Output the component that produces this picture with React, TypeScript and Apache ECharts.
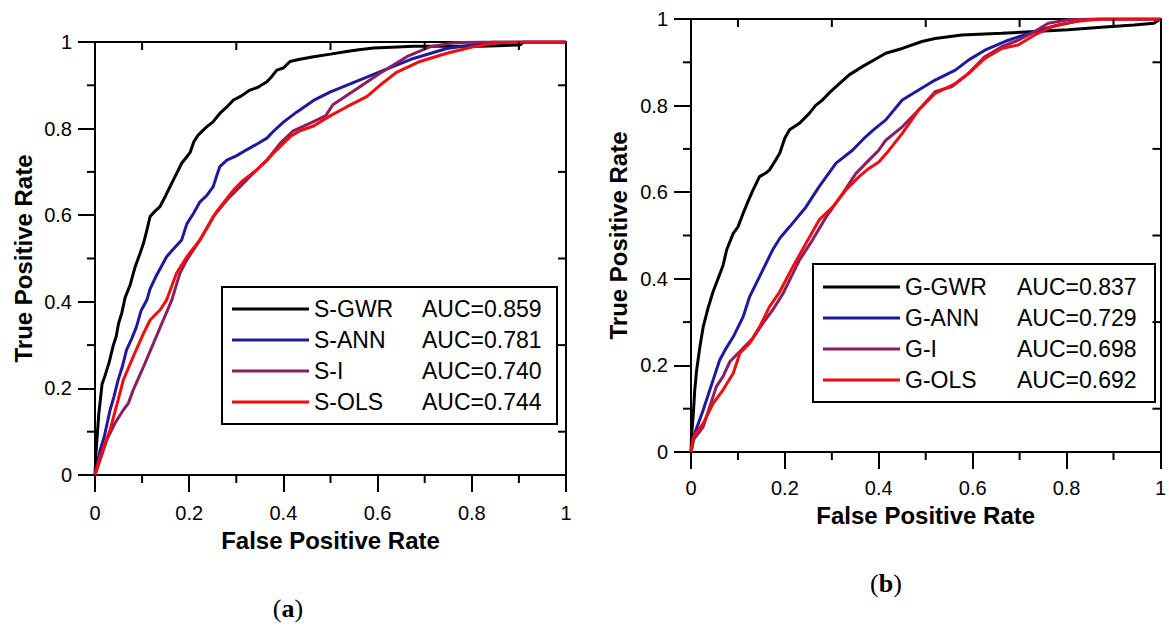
import React, { useEffect, useRef } from "react";
import * as echarts from "echarts";

// ---------- Data ----------
const legendLeft = ["S-GWR", "S-ANN", "S-I", "S-OLS"];
const aucLeft = ["0.859", "0.781", "0.740", "0.744"];
const legendRight = ["G-GWR", "G-ANN", "G-I", "G-OLS"];
const aucRight = ["0.837", "0.729", "0.698", "0.692"];

const minorTicks = [0.1, 0.3, 0.5, 0.7, 0.9];

const sGwr: [number, number][] = [
  [0, 0], [0.002, 0.05], [0.004, 0.08], [0.008, 0.14], [0.011, 0.17], [0.015, 0.21], [0.02, 0.225],
  [0.03, 0.26], [0.039, 0.3], [0.045, 0.32], [0.05, 0.35], [0.057, 0.375], [0.064, 0.41], [0.075, 0.44],
  [0.085, 0.48], [0.095, 0.51], [0.103, 0.535], [0.11, 0.565], [0.117, 0.597], [0.128, 0.61], [0.138, 0.62],
  [0.15, 0.645], [0.163, 0.674], [0.175, 0.7], [0.184, 0.72], [0.195, 0.735], [0.202, 0.745], [0.21, 0.77],
  [0.219, 0.785], [0.237, 0.804], [0.25, 0.815], [0.265, 0.835], [0.28, 0.85], [0.294, 0.866], [0.31, 0.875],
  [0.329, 0.889], [0.345, 0.895], [0.365, 0.908], [0.375, 0.92], [0.386, 0.935], [0.4, 0.94], [0.414, 0.955],
  [0.435, 0.96], [0.464, 0.966], [0.5, 0.972], [0.534, 0.978], [0.56, 0.982], [0.591, 0.986], [0.63, 0.988],
  [0.676, 0.99], [0.75, 0.99], [0.82, 0.99], [0.87, 0.992], [0.902, 0.993], [0.91, 1], [1, 1],
];
const sAnn: [number, number][] = [
  [0, 0], [0.011, 0.058], [0.02, 0.09], [0.032, 0.15], [0.04, 0.18], [0.049, 0.219], [0.058, 0.25],
  [0.067, 0.289], [0.078, 0.315], [0.088, 0.342], [0.098, 0.38], [0.11, 0.404], [0.117, 0.43], [0.13, 0.46],
  [0.14, 0.48], [0.152, 0.504], [0.165, 0.52], [0.184, 0.543], [0.195, 0.58], [0.209, 0.604], [0.223, 0.631],
  [0.237, 0.645], [0.251, 0.666], [0.258, 0.69], [0.265, 0.712], [0.28, 0.727], [0.3, 0.737], [0.322, 0.751],
  [0.345, 0.765], [0.365, 0.778], [0.38, 0.795], [0.4, 0.815], [0.428, 0.838], [0.464, 0.865], [0.5, 0.885],
  [0.534, 0.9], [0.598, 0.928], [0.676, 0.962], [0.747, 0.985], [0.846, 1], [1, 1],
];
const sI: [number, number][] = [
  [0, 0], [0.011, 0.035], [0.025, 0.081], [0.042, 0.119], [0.06, 0.15], [0.071, 0.166], [0.081, 0.196],
  [0.103, 0.25], [0.124, 0.304], [0.145, 0.358], [0.163, 0.404], [0.18, 0.465], [0.195, 0.497], [0.223, 0.543],
  [0.251, 0.597], [0.28, 0.635], [0.308, 0.666], [0.336, 0.697], [0.365, 0.727], [0.393, 0.766], [0.421, 0.795],
  [0.464, 0.816], [0.49, 0.83], [0.505, 0.855], [0.52, 0.866], [0.56, 0.895], [0.605, 0.928], [0.662, 0.966],
  [0.711, 0.989], [0.761, 0.998], [0.82, 1], [1, 1],
];
const sOls: [number, number][] = [
  [0, 0], [0.011, 0.042], [0.032, 0.104], [0.049, 0.173], [0.06, 0.219], [0.081, 0.273], [0.103, 0.327],
  [0.117, 0.358], [0.138, 0.381], [0.152, 0.404], [0.173, 0.466], [0.195, 0.504], [0.223, 0.543], [0.258, 0.608],
  [0.294, 0.658], [0.315, 0.681], [0.343, 0.704], [0.365, 0.727], [0.386, 0.751], [0.414, 0.781], [0.435, 0.795],
  [0.464, 0.806], [0.5, 0.83], [0.534, 0.85], [0.577, 0.874], [0.605, 0.9], [0.64, 0.93], [0.69, 0.955],
  [0.747, 0.974], [0.803, 0.989], [0.853, 0.998], [0.9, 1], [1, 1],
];

const gGwr: [number, number][] = [
  [0, 0], [0.001, 0.035], [0.005, 0.089], [0.008, 0.143], [0.012, 0.189], [0.019, 0.243], [0.026, 0.289],
  [0.037, 0.335], [0.047, 0.37], [0.061, 0.41], [0.068, 0.43], [0.076, 0.467], [0.09, 0.505], [0.1, 0.52],
  [0.111, 0.551], [0.122, 0.58], [0.132, 0.605], [0.146, 0.636], [0.16, 0.645], [0.167, 0.651], [0.178, 0.67],
  [0.189, 0.69], [0.2, 0.725], [0.21, 0.744], [0.231, 0.759], [0.252, 0.782], [0.265, 0.8], [0.28, 0.813],
  [0.295, 0.83], [0.309, 0.844], [0.337, 0.871], [0.365, 0.89], [0.386, 0.903], [0.415, 0.921], [0.45, 0.932],
  [0.492, 0.948], [0.52, 0.955], [0.577, 0.963], [0.662, 0.967], [0.732, 0.971], [0.803, 0.975], [0.874, 0.981],
  [0.944, 0.986], [0.986, 0.99], [1, 1],
];
const gAnn: [number, number][] = [
  [0, 0], [0.008, 0.043], [0.026, 0.097], [0.047, 0.166], [0.061, 0.212], [0.075, 0.24], [0.09, 0.266],
  [0.111, 0.312], [0.125, 0.359], [0.146, 0.405], [0.174, 0.467], [0.19, 0.495], [0.21, 0.52], [0.245, 0.566],
  [0.273, 0.613], [0.309, 0.667], [0.344, 0.697], [0.372, 0.728], [0.39, 0.745], [0.415, 0.767], [0.45, 0.813],
  [0.485, 0.836], [0.52, 0.859], [0.563, 0.882], [0.591, 0.905], [0.626, 0.928], [0.676, 0.951], [0.732, 0.971],
  [0.782, 0.986], [0.838, 0.998], [0.87, 1], [1, 1],
];
const gI: [number, number][] = [
  [0, 0], [0.005, 0.028], [0.026, 0.058], [0.04, 0.105], [0.054, 0.151], [0.068, 0.174], [0.083, 0.209],
  [0.104, 0.232], [0.132, 0.263], [0.153, 0.297], [0.174, 0.328], [0.196, 0.366], [0.21, 0.397], [0.231, 0.443],
  [0.259, 0.49], [0.288, 0.543], [0.323, 0.597], [0.351, 0.643], [0.379, 0.674], [0.4, 0.697], [0.415, 0.72],
  [0.45, 0.751], [0.485, 0.79], [0.52, 0.832], [0.556, 0.844], [0.591, 0.874], [0.626, 0.913], [0.662, 0.936],
  [0.697, 0.951], [0.732, 0.971], [0.761, 0.99], [0.803, 0.998], [0.86, 1], [1, 1],
];
const gOls: [number, number][] = [
  [0, 0], [0.005, 0.035], [0.026, 0.066], [0.047, 0.112], [0.068, 0.143], [0.09, 0.182], [0.104, 0.228],
  [0.125, 0.251], [0.146, 0.289], [0.167, 0.335], [0.189, 0.37], [0.217, 0.428], [0.245, 0.482], [0.273, 0.536],
  [0.302, 0.566], [0.33, 0.605], [0.358, 0.636], [0.379, 0.655], [0.4, 0.67], [0.422, 0.697], [0.45, 0.736],
  [0.485, 0.79], [0.52, 0.828], [0.563, 0.851], [0.591, 0.874], [0.626, 0.909], [0.662, 0.932], [0.697, 0.94],
  [0.732, 0.963], [0.768, 0.982], [0.817, 0.994], [0.874, 1], [1, 1],
];

const xTitle = "False Positive Rate";
const yTitle = "True Positive Rate";

const COLORS = ["#000000", "#1d1a9c", "#8c1d60", "#f20d0d"];
const FONT = "'Liberation Sans', Arial, sans-serif";

export default function App() {
  const ref = useRef<HTMLDivElement>(null);

  useEffect(() => {
    if (!ref.current) return;
    const chart = echarts.init(ref.current, undefined, { renderer: "svg" });

    const lineSt = { color: "#000", width: 2 };
    const base = { type: "value", min: 0, max: 1, interval: 0.2, splitLine: { show: false } };

    const mainX = (grid: number, nameGap: number, margin: number) => ({
      ...base,
      gridIndex: grid,
      position: "bottom",
      name: xTitle,
      nameLocation: "middle",
      nameGap,
      nameTextStyle: { fontSize: 24, fontWeight: "bold", color: "#000", fontFamily: FONT },
      axisLine: { show: true, onZero: false, lineStyle: lineSt },
      axisTick: { show: true, length: 17, lineStyle: lineSt },
      axisLabel: { fontSize: 20, color: "#000", fontFamily: FONT, margin },
    });
    const mainY = (grid: number, nameGap: number) => ({
      ...base,
      gridIndex: grid,
      position: "left",
      name: yTitle,
      nameLocation: "middle",
      nameGap,
      nameTextStyle: { fontSize: 24, fontWeight: "bold", color: "#000", fontFamily: FONT },
      axisLine: { show: true, onZero: false, lineStyle: lineSt },
      axisTick: { show: true, length: 17, lineStyle: lineSt },
      axisLabel: { fontSize: 20, color: "#000", fontFamily: FONT, margin: 23 },
    });
    const frame = (grid: number, pos: string) => ({
      ...base,
      gridIndex: grid,
      position: pos,
      axisLine: { show: true, onZero: false, lineStyle: lineSt },
      axisTick: { show: false },
      axisLabel: { show: false },
    });

    const mkSeries = (name: string, data: [number, number][], color: string, grid: number, i: number) => ({
      name,
      type: "line",
      xAxisIndex: grid * 2,
      yAxisIndex: grid * 2,
      data,
      showSymbol: false,
      symbol: "none",
      lineStyle: { color, width: 3 },
      itemStyle: { color },
      z: 2 + i * 0.1,
    });

    const leftData = [sGwr, sAnn, sI, sOls];
    const rightData = [gGwr, gAnn, gI, gOls];

    const mkLegend = (names: string[], aucs: string[], left: number, top: number, nameW: number) => ({
      data: names,
      orient: "vertical",
      left,
      top,
      padding: 0,
      itemWidth: 77,
      itemHeight: 3,
      itemGap: 7,
      icon: "rect",
      selectedMode: false,
      z: 10,
      formatter: (n: string) => `{n|${n}}{a|AUC=${aucs[names.indexOf(n)]}}`,
      textStyle: {
        color: "#000",
        fontSize: 23,
        lineHeight: 24,
        fontFamily: FONT,
        rich: {
          n: { width: nameW, fontSize: 23, lineHeight: 24, fontFamily: FONT, color: "#000" },
          a: { fontSize: 23, lineHeight: 24, fontFamily: FONT, color: "#000" },
        },
      },
    });

    const serif = "'Liberation Serif', 'DejaVu Serif', serif";
    const capLabel = (txt: string, x: number, y: number) => ({
      type: "text",
      x,
      y,
      z: 10,
      style: {
        text: `{p|(}{b|${txt}}{p|)}`,
        align: "center",
        verticalAlign: "middle",
        rich: {
          p: { fontSize: 26, fontFamily: serif, fill: "#000" },
          b: { fontSize: 26, fontFamily: serif, fontWeight: "bold", fill: "#000" },
        },
      },
    });

    chart.setOption({
      animation: false,
      backgroundColor: "#ffffff",
      grid: [
        { left: 95, top: 42, width: 471, height: 433 },
        { left: 691, top: 19, width: 472, height: 433 },
      ],
      xAxis: [mainX(0, 53, 28), frame(0, "top"), mainX(1, 51, 26), frame(1, "top")],
      yAxis: [mainY(0, 60), frame(0, "right"), mainY(1, 61), frame(1, "right")],
      legend: [mkLegend(legendLeft, aucLeft, 232, 297, 108), mkLegend(legendRight, aucRight, 823, 275, 112)],
      series: [
        ...legendLeft.map((n, i) => mkSeries(n, leftData[i], COLORS[i], 0, i)),
        ...legendRight.map((n, i) => mkSeries(n, rightData[i], COLORS[i], 1, i)),
      ],
    });

    // short ticks at the odd tenths, positioned through the grids' own scales:
    // outward on bottom/left, inward on top/right
    const TL = 8;
    const seg = (x1: number, y1: number, x2: number, y2: number) => ({
      type: "line",
      z: 20,
      silent: true,
      shape: { x1, y1, x2, y2 },
      style: { stroke: "#000", lineWidth: 2 },
    });
    const ticks: any[] = [];
    [0, 1].forEach((g) => {
      minorTicks.forEach((v) => {
        const b = chart.convertToPixel({ gridIndex: g }, [v, 0]) as number[];
        const t = chart.convertToPixel({ gridIndex: g }, [v, 1]) as number[];
        const l = chart.convertToPixel({ gridIndex: g }, [0, v]) as number[];
        const r = chart.convertToPixel({ gridIndex: g }, [1, v]) as number[];
        if (b) ticks.push(seg(b[0], b[1], b[0], b[1] + TL));
        if (t) ticks.push(seg(t[0], t[1], t[0], t[1] + TL));
        if (l) ticks.push(seg(l[0], l[1], l[0] - TL, l[1]));
        if (r) ticks.push(seg(r[0], r[1], r[0] - TL, r[1]));
      });
    });

    chart.setOption({
      graphic: [
        { type: "rect", z: 3, shape: { x: 222, y: 287, width: 335, height: 137 }, style: { fill: "#fff", stroke: "#000", lineWidth: 2 } },
        { type: "rect", z: 3, shape: { x: 813, y: 264, width: 342, height: 138 }, style: { fill: "#fff", stroke: "#000", lineWidth: 2 } },
        capLabel("a", 288, 608),
        capLabel("b", 886, 583),
        ...ticks,
      ],
    });

    return () => chart.dispose();
  }, []);

  return (
    <div
      ref={ref}
      style={{ position: "fixed", left: 0, top: 0, width: 1169, height: 626, background: "#fff" }}
    />
  );
}
